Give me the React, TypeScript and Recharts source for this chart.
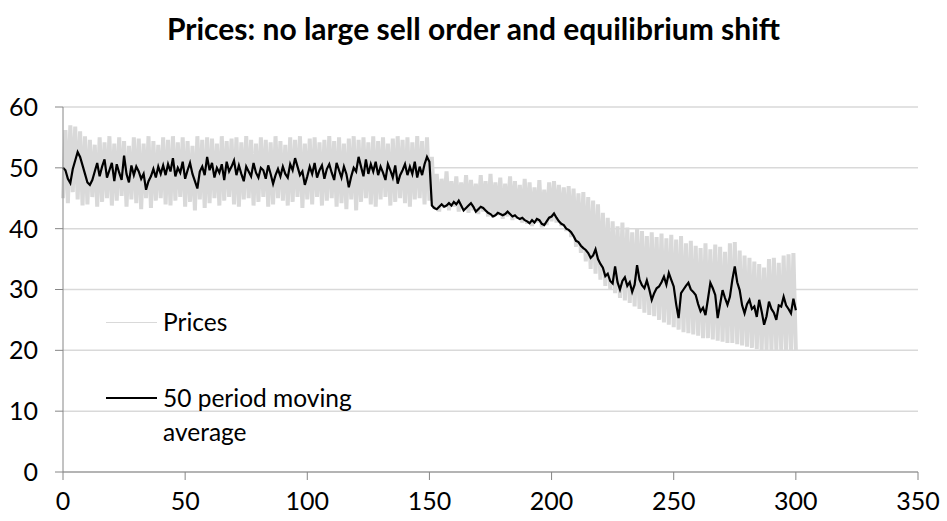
import { LineChart, Line, XAxis, YAxis, CartesianGrid } from 'recharts';

const title = 'Prices: no large sell order and equilibrium shift';
const xTicks = [0, 50, 100, 150, 200, 250, 300, 350];
const yTicks = [0, 10, 20, 30, 40, 50, 60];

// raw price per period (alternating swing highs / lows)
const prices = [
  45.0, 56.2, 44.2, 57.0, 46.0, 56.8, 44.8, 56.0, 43.8, 55.2,
  44.0, 54.6, 45.2, 53.8, 43.6, 55.0, 44.4, 54.2, 45.0, 55.2,
  43.8, 54.0, 44.6, 55.0, 45.4, 54.4, 43.6, 53.6, 44.8, 55.0,
  44.2, 54.8, 43.2, 54.0, 45.0, 55.2, 43.4, 54.4, 44.6, 53.8,
  45.0, 55.0, 44.0, 54.6, 43.8, 55.2, 44.6, 54.2, 45.2, 55.0,
  43.6, 54.4, 44.4, 53.6, 43.0, 55.2, 44.8, 54.6, 43.4, 55.0,
  44.2, 54.8, 45.0, 54.0, 43.8, 55.2, 44.6, 54.4, 45.2, 54.8,
  44.0, 55.0, 43.6, 54.2, 44.8, 55.2, 45.0, 54.6, 43.8, 54.0,
  44.4, 55.0, 45.2, 54.6, 43.6, 54.2, 44.0, 55.2, 45.0, 54.4,
  44.6, 53.8, 43.8, 55.0, 44.4, 54.6, 45.2, 55.2, 43.4, 54.0,
  44.8, 54.8, 44.0, 55.0, 45.2, 54.2, 43.8, 54.6, 44.6, 55.2,
  45.0, 54.4, 43.6, 55.0, 44.2, 54.0, 43.2, 54.8, 44.8, 55.2,
  43.0, 54.6, 44.4, 55.0, 45.0, 54.2, 44.0, 55.2, 43.6, 54.4,
  44.8, 55.0, 45.2, 54.0, 43.8, 54.8, 44.4, 55.2, 45.0, 54.6,
  44.2, 55.0, 43.6, 54.2, 44.8, 55.2, 45.0, 54.4, 44.0, 55.0,
  44.6, 51.8, 43.2, 49.0, 42.8, 48.2, 43.4, 49.4, 43.0, 47.8,
  43.6, 48.6, 42.8, 47.6, 43.2, 48.8, 42.6, 48.0, 43.0, 47.4,
  42.4, 48.8, 42.8, 47.8, 42.0, 49.0, 41.8, 47.6, 42.2, 48.4,
  41.6, 47.4, 42.0, 48.6, 41.4, 47.8, 41.6, 47.2, 41.0, 48.2,
  40.8, 47.6, 40.4, 46.8, 41.0, 48.0, 40.2, 46.4, 40.6, 47.6,
  41.2, 47.8, 41.0, 47.2, 40.4, 46.8, 39.6, 47.0, 38.6, 46.6,
  37.0, 45.8, 36.0, 46.0, 34.6, 45.2, 33.4, 44.6, 32.6, 44.0,
  31.6, 42.6, 30.6, 41.8, 30.0, 41.2, 29.4, 40.4, 28.6, 41.0,
  28.2, 40.2, 27.8, 39.4, 27.2, 40.0, 26.8, 39.6, 26.2, 38.8,
  25.8, 39.4, 25.6, 38.6, 25.0, 39.2, 24.6, 38.4, 24.2, 39.0,
  23.8, 38.2, 23.4, 38.8, 23.0, 37.6, 22.8, 38.0, 22.6, 37.2,
  22.4, 36.8, 22.0, 37.6, 22.0, 36.6, 21.8, 37.4, 21.6, 37.0,
  21.4, 36.2, 21.2, 37.6, 21.2, 37.8, 21.0, 36.4, 20.8, 35.6,
  20.6, 35.2, 20.4, 34.6, 20.2, 34.2, 20.0, 33.6, 20.0, 35.0,
  20.0, 35.2, 20.0, 34.4, 20.0, 35.6, 20.0, 35.8, 20.0, 36.0,
  20.0,
];

// 50 period moving average (black line)
const movingAvg = [
  50.0, 49.6, 48.2, 47.5, 49.8, 51.2, 52.6, 51.8, 50.4, 49.0,
  47.6, 47.2, 48.0, 49.4, 50.8, 48.6, 50.2, 51.4, 48.4, 49.6,
  50.8, 47.8, 50.6, 49.2, 48.0, 52.0, 49.0, 47.6, 50.4, 48.8,
  50.2, 49.4, 48.2, 49.0, 46.4, 47.8, 48.6, 49.8, 48.4, 50.2,
  49.0, 50.4, 48.8, 50.6, 49.4, 51.6, 48.6, 50.0, 49.2, 51.0,
  48.2, 49.6, 50.8, 49.0, 47.8, 46.6, 49.4, 50.2, 48.8, 51.8,
  49.6, 50.8, 48.4, 50.0, 49.2, 50.6, 48.0, 51.0, 49.4, 50.2,
  51.2, 48.8, 50.4, 49.0, 47.8, 50.2, 49.4, 48.6, 50.8, 49.2,
  48.4, 50.0, 49.6, 48.2, 50.4, 49.0, 47.4, 48.8, 49.8, 48.6,
  50.2, 49.0, 48.4, 50.6, 49.6, 51.6, 50.2, 48.8, 49.4, 47.2,
  48.6, 50.2, 49.0, 50.8, 48.4, 49.6, 50.4, 48.2, 49.8, 50.6,
  49.2, 48.0, 50.8, 49.6, 48.4, 50.2, 49.0, 46.8, 48.6, 50.0,
  49.4, 51.8, 50.2, 48.6, 51.4, 49.0, 50.6, 49.4, 51.0, 48.8,
  50.2, 49.2, 48.0, 50.6, 49.6, 48.4, 50.4, 47.4, 48.8, 49.6,
  50.6, 48.8, 50.2, 49.0, 51.0, 48.4, 50.2, 48.8, 50.6, 51.8,
  51.0, 43.8, 43.4, 43.2, 43.6, 44.0, 43.6, 43.8, 44.2, 43.8,
  44.4, 44.0, 44.6, 43.8, 43.0, 43.4, 43.8, 44.2, 43.6, 42.8,
  43.2, 43.6, 43.4, 43.0, 42.6, 42.4, 42.0, 42.2, 42.6, 42.4,
  42.2, 42.4, 42.8, 42.4, 42.0, 42.2, 41.8, 41.6, 41.8, 41.4,
  41.2, 40.9, 41.4, 41.0, 41.6, 41.4, 40.8, 40.6, 41.2, 41.8,
  42.0, 42.5, 41.8, 41.2, 40.8, 40.6, 40.0, 39.8, 39.4, 38.8,
  38.0, 37.8, 37.2, 36.8, 36.5, 36.0, 35.2, 35.6, 36.6, 35.0,
  34.2, 33.6, 32.2, 32.6, 31.4, 31.0, 33.8, 31.2, 30.0, 31.4,
  32.0, 30.6, 31.2, 29.6, 30.8, 34.0, 31.6, 30.7, 30.2, 31.5,
  30.0, 28.3, 29.4, 30.2, 30.5, 31.2, 32.1, 30.8, 32.7, 31.6,
  30.5, 27.6, 25.3, 29.4, 30.0, 30.6, 31.1, 30.0, 29.6, 29.1,
  27.6, 26.4, 27.0, 25.8, 28.4, 31.1, 30.2, 29.1, 25.3, 27.6,
  29.9, 28.6, 27.5, 28.8, 31.6, 33.8, 31.2, 29.9, 27.4, 26.1,
  27.6, 28.3, 26.8, 27.2, 25.5, 28.3, 26.4, 24.2, 25.6, 28.0,
  26.8, 26.2, 25.0, 27.4, 27.2, 28.8, 27.4, 26.8, 26.1, 28.5,
  26.6,
];

const data = prices.map((price, i) => ({ period: i, price, avg: movingAvg[i] }));

const FONT = 'Lato, "Open Sans", sans-serif';
const AXIS = '#868686';

// legend sits inside the plot area, drawn as an overlay so it doesn't eat chart space
function ChartLegend() {
  return (
    <div
      style={{
        position: 'absolute',
        left: 106,
        top: 305,
        fontFamily: FONT,
        fontSize: 24.5,
        color: '#000',
        lineHeight: '34px',
        whiteSpace: 'nowrap',
      }}
    >
      <div style={{ display: 'flex', alignItems: 'flex-start' }}>
        <span style={{ width: 51, borderTop: '1px solid #d9d9d9', marginTop: 17, marginRight: 6 }} />
        <span>Prices</span>
      </div>
      <div style={{ display: 'flex', alignItems: 'flex-start', marginTop: 42 }}>
        <span style={{ width: 51, borderTop: '2px solid #000', marginTop: 16, marginRight: 6 }} />
        <span>
          50 period moving
          <br />
          average
        </span>
      </div>
    </div>
  );
}

export default function App() {
  return (
    <div style={{ position: 'absolute', left: 0, top: 0, width: 947, height: 521, background: '#fff' }}>
      <div
        style={{
          position: 'absolute',
          top: 12,
          left: 0,
          width: 947,
          textAlign: 'center',
          fontFamily: FONT,
          fontWeight: 'bold',
          fontSize: 30,
          lineHeight: '32px',
        }}
      >
        {title}
      </div>
      <LineChart width={947} height={521} data={data} margin={{ top: 107, right: 29, bottom: 9, left: 13 }}>
        <CartesianGrid vertical={false} stroke="#d9d9d9" strokeWidth={1.5} />
        <XAxis
          dataKey="period"
          type="number"
          domain={[0, 350]}
          ticks={xTicks}
          height={40}
          stroke={AXIS}
          tickSize={8}
          tickMargin={12}
          tick={{ fill: '#000', fontSize: 25, fontFamily: FONT }}
        />
        <YAxis
          domain={[0, 60]}
          ticks={yTicks}
          width={50}
          stroke={AXIS}
          tickSize={8}
          tickMargin={17}
          tick={{ fill: '#000', fontSize: 25, fontFamily: FONT }}
        />
        <Line
          type="linear"
          dataKey="price"
          name="Prices"
          stroke="#d9d9d9"
          strokeWidth={4}
          strokeLinejoin="miter"
          dot={false}
          isAnimationActive={false}
        />
        <Line
          type="linear"
          dataKey="avg"
          name="50 period moving average"
          stroke="#000"
          strokeWidth={2.2}
          dot={false}
          isAnimationActive={false}
        />
      </LineChart>
      <ChartLegend />
    </div>
  );
}
